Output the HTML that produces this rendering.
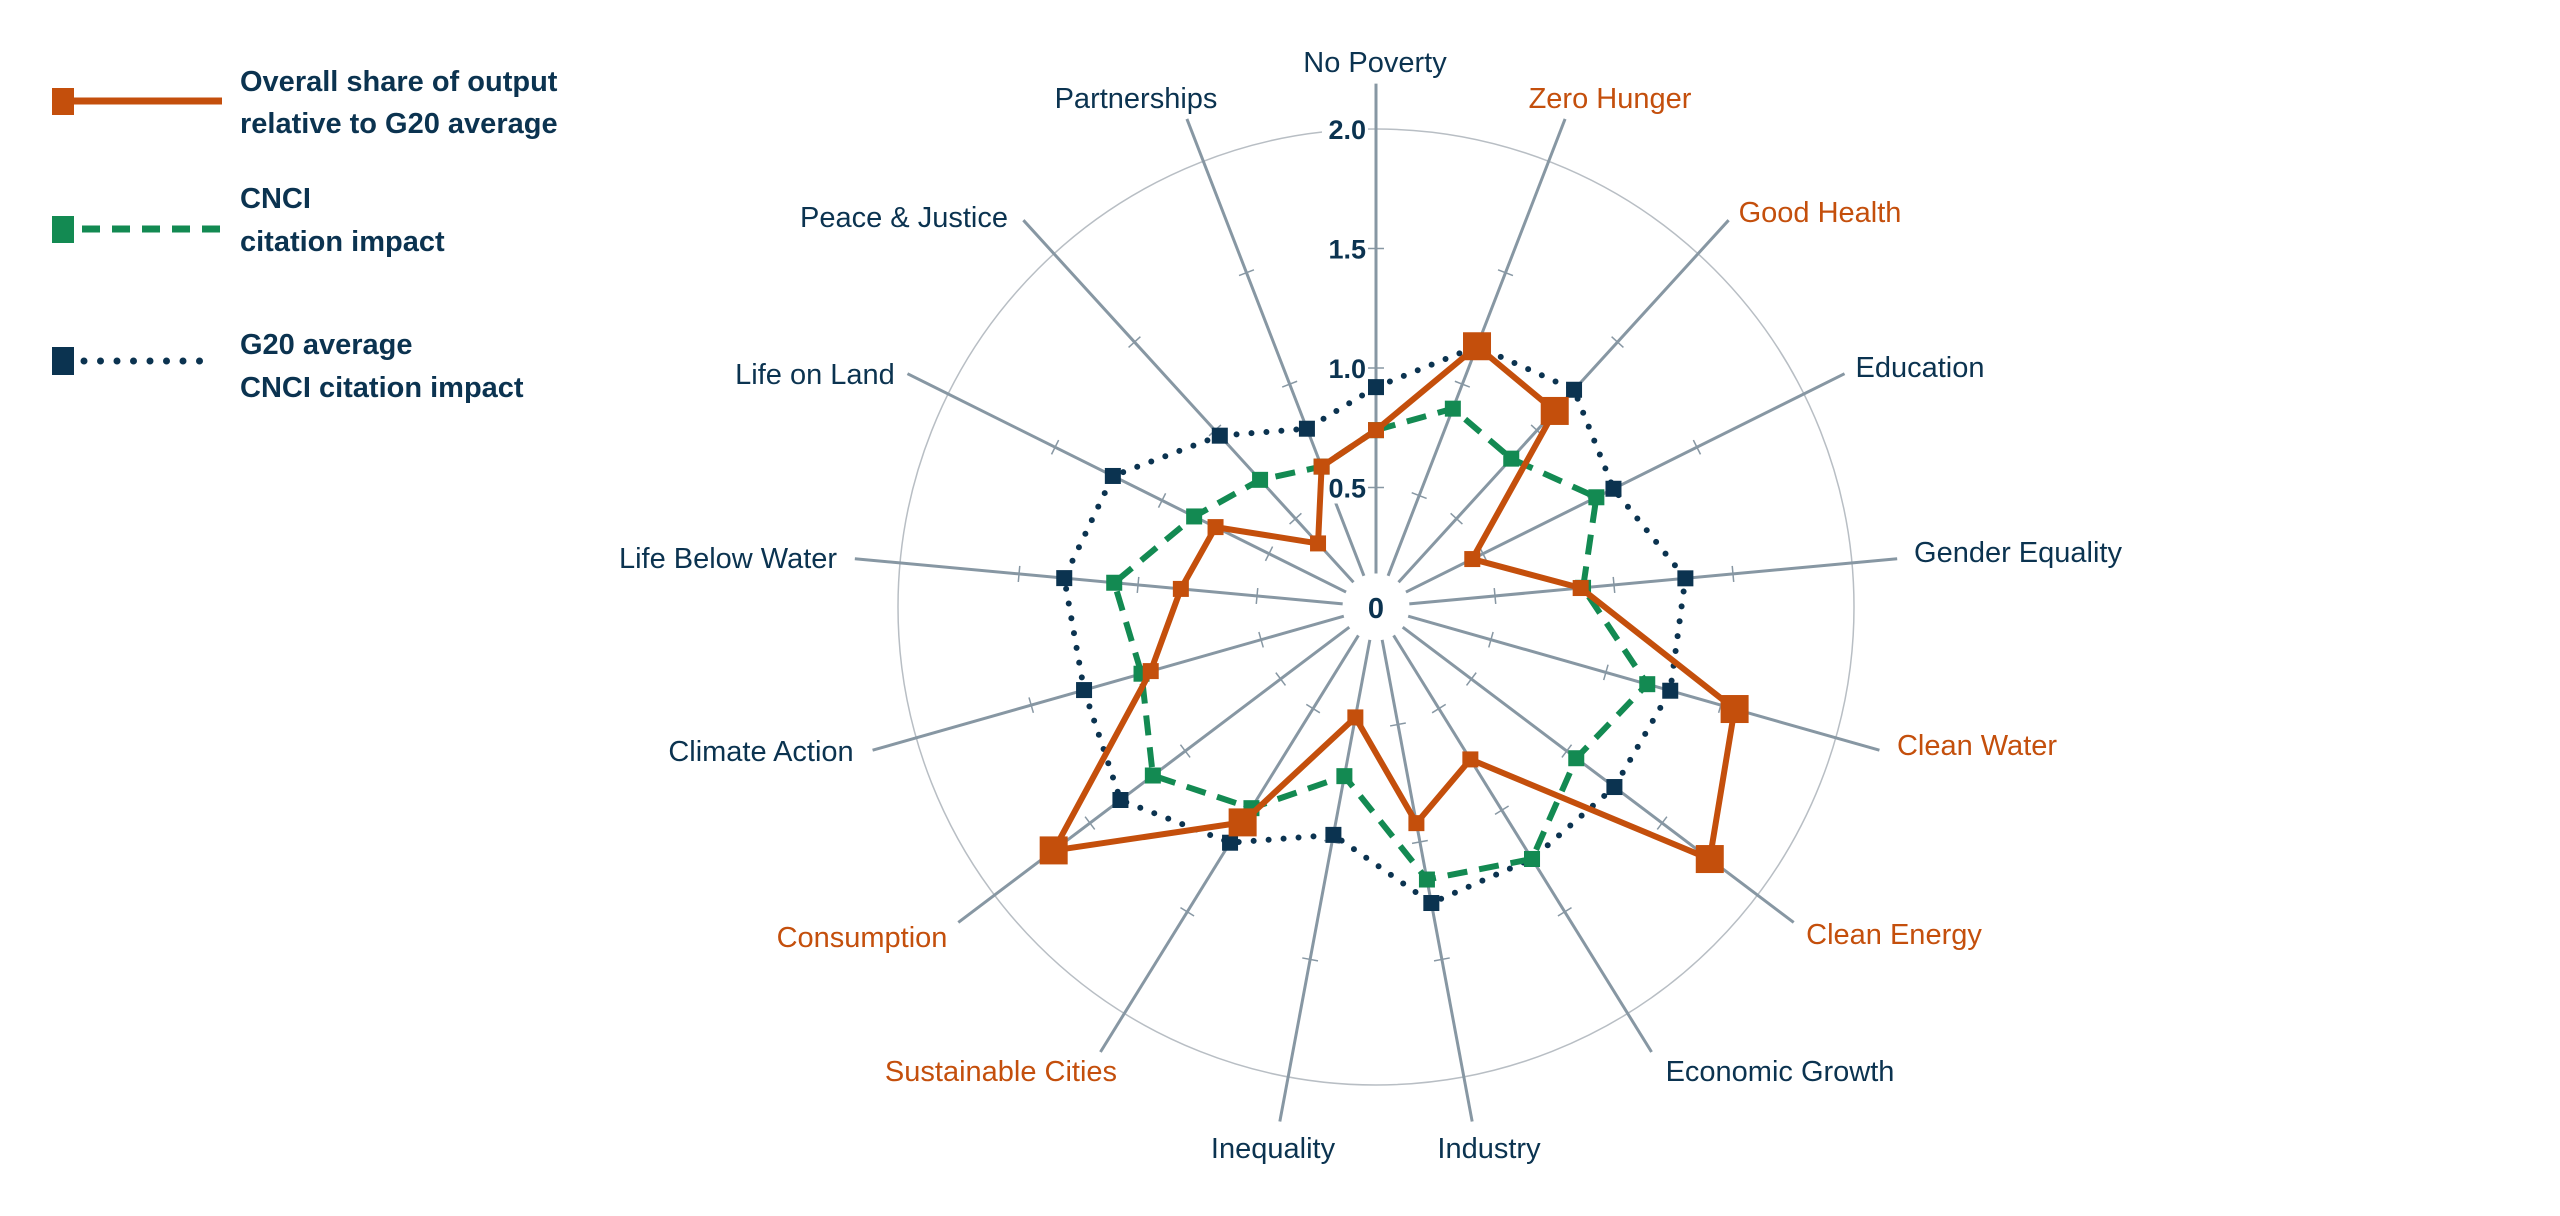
<!DOCTYPE html>
<html><head><meta charset="utf-8"><style>
html,body{margin:0;padding:0;background:#fff;}
svg{display:block;}
text{font-family:"Liberation Sans",sans-serif;}
</style></head><body>
<svg id="s" width="2560" height="1216" viewBox="0 0 2560 1216" xmlns="http://www.w3.org/2000/svg">
<g font-weight="bold" font-size="29" fill="#0b3350">
<rect x="52" y="88" width="22" height="27" fill="#c44f0c"/>
<line x1="70" y1="101" x2="222" y2="101" stroke="#c44f0c" stroke-width="7"/>
<text x="240" y="91">Overall share of output</text>
<text x="240" y="133">relative to G20 average</text>
<rect x="52" y="216" width="22" height="27" fill="#138a52"/>
<line x1="82" y1="229" x2="222" y2="229" stroke="#138a52" stroke-width="7" stroke-dasharray="18,12"/>
<text x="240" y="208">CNCI</text>
<text x="240" y="251">citation impact</text>
<rect x="52" y="347" width="22" height="28" fill="#0b3350"/>
<line x1="84" y1="361" x2="216" y2="361" stroke="#0b3350" stroke-width="7" stroke-linecap="round" stroke-dasharray="0,16.5"/>
<text x="240" y="354">G20 average</text>
<text x="240" y="397">CNCI citation impact</text>
</g>
<g id="chart"></g>
</svg>
<script>
var cx=1376,cy=607,U=239,N=17;
var g=document.getElementById('chart');var h='';
function pt(i,v){var a=i*2*Math.PI/N;return [cx+Math.sin(a)*v*U,cy-Math.cos(a)*v*U];}
h+='<circle cx="'+cx+'" cy="'+cy+'" r="'+(2*U)+'" fill="none" stroke="#b8bec4" stroke-width="1.5"/>';
for(var i=0;i<N;i++){var a=i*2*Math.PI/N,p0=pt(i,0.14),p1=pt(i,2.19);
h+='<line x1="'+p0[0]+'" y1="'+p0[1]+'" x2="'+p1[0]+'" y2="'+p1[1]+'" stroke="#8797a3" stroke-width="3"/>';
[0.5,1,1.5].forEach(function(v){var p=pt(i,v),dx=Math.cos(a)*8,dy=Math.sin(a)*8;
h+='<line x1="'+(p[0]-dx)+'" y1="'+(p[1]-dy)+'" x2="'+(p[0]+dx)+'" y2="'+(p[1]+dy)+'" stroke="#8797a3" stroke-width="1.5"/>';});}
h+='<g font-weight="bold" font-size="27" fill="#0b3350" text-anchor="end">';
[[2,"2.0"],[1.5,"1.5"],[1,"1.0"],[0.5,"0.5"]].forEach(function(t){h+='<rect x="1322" y="'+(cy-t[0]*U-16)+'" width="46" height="32" fill="#fff"/><text x="1366" y="'+(cy-t[0]*U+10)+'">'+t[1]+'</text>';});
h+='</g><circle cx="'+cx+'" cy="'+cy+'" r="22" fill="#fff"/><text x="'+cx+'" y="'+(cy+11)+'" text-anchor="middle" font-weight="bold" font-size="29" fill="#0b3350">0</text>';
var nav=[0.92,1.17,1.23,1.11,1.30,1.28,1.25,1.24,1.26,0.97,1.16,1.34,1.27,1.31,1.23,0.97,0.80];
var grn=[0.74,0.89,0.84,1.03,0.87,1.18,1.05,1.24,1.16,0.72,0.99,1.17,1.02,1.10,0.85,0.72,0.63];
var org=[0.74,1.17,1.11,0.45,0.86,1.56,1.75,0.75,0.92,0.47,1.06,1.69,0.98,0.82,0.75,0.36,0.63];
var big={1:1,2:1,5:1,6:1,10:1,11:1};
function poly(d,col,extra){var s=d.map(function(v,i){return pt(i,v).join(',');}).join(' ');
h+='<polygon points="'+s+'" fill="none" stroke="'+col+'" stroke-width="6" stroke-linejoin="round" '+extra+'/>';}
function marks(d,col,sz,bigsz){d.forEach(function(v,i){var p=pt(i,v),z=(bigsz&&big[i])?bigsz:sz;
h+='<rect x="'+(p[0]-z/2)+'" y="'+(p[1]-z/2)+'" width="'+z+'" height="'+z+'" fill="'+col+'"/>';});}
poly(nav,'#0b3350','stroke-linecap="round" stroke-dasharray="0,15"');marks(nav,'#0b3350',16);
poly(grn,'#138a52','stroke-dasharray="20,12"');marks(grn,'#138a52',16);
poly(org,'#c44f0c','');marks(org,'#c44f0c',16,28);
var L=[["No Poverty",1375,72,0],["Zero Hunger",1610,108,1],["Good Health",1820,222,1],["Education",1920,377,0],["Gender Equality",2018,562,0],["Clean Water",1977,755,1],["Clean Energy",1894,944,1],["Economic Growth",1780,1081,0],["Industry",1489,1158,0],["Inequality",1273,1158,0],["Sustainable Cities",1001,1081,1],["Consumption",862,947,1],["Climate Action",761,761,0],["Life Below Water",728,568,0],["Life on Land",815,384,0],["Peace & Justice",904,227,0],["Partnerships",1136,108,0]];
h+='<g font-size="29" text-anchor="middle">';
L.forEach(function(l){h+='<text x="'+l[1]+'" y="'+l[2]+'" fill="'+(l[3]?'#c44f0c':'#0b3350')+'">'+l[0].replace('&','&amp;')+'</text>';});
h+='</g>';
g.innerHTML=h;
</script>
</body></html>
